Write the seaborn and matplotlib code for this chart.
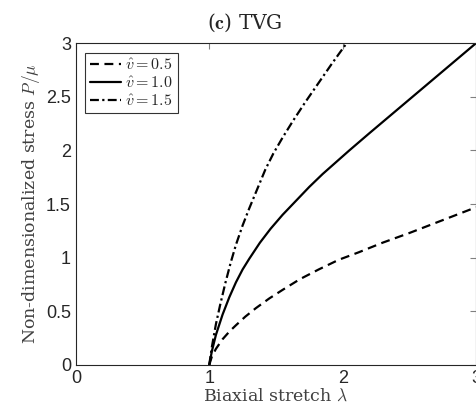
import pandas as pd
import seaborn as sns
import matplotlib
matplotlib.use("Agg")
import matplotlib.pyplot as plt

# valores
lam_05 = [1.0, 1.02, 1.05, 1.10, 1.15, 1.20, 1.27, 1.35, 1.45, 1.55, 1.68, 1.82,
          1.97, 2.12, 2.30, 2.50, 2.75, 3.0]
p_05 = [0.0, 0.08, 0.15, 0.24, 0.31, 0.37, 0.45, 0.53, 0.62, 0.70, 0.80, 0.89,
        0.98, 1.05, 1.14, 1.23, 1.35, 1.47]

lam_10 = [1.0, 1.02, 1.05, 1.10, 1.15, 1.20, 1.25, 1.30, 1.38, 1.46, 1.55, 1.65,
          1.75, 1.85, 1.95, 2.05, 2.20, 2.40, 2.60, 2.80, 3.0]
p_10 = [0.0, 0.13, 0.28, 0.47, 0.63, 0.77, 0.89, 0.99, 1.14, 1.27, 1.40, 1.53,
        1.66, 1.78, 1.89, 2.00, 2.16, 2.37, 2.58, 2.79, 3.0]

lam_15 = [1.0, 1.02, 1.05, 1.08, 1.12, 1.16, 1.20, 1.25, 1.30, 1.36, 1.42, 1.48,
          1.55, 1.63, 1.72, 1.82, 1.92, 2.03]
p_15 = [0.0, 0.17, 0.38, 0.55, 0.76, 0.95, 1.12, 1.30, 1.46, 1.64, 1.82, 1.97,
        2.12, 2.28, 2.45, 2.63, 2.81, 3.0]

etiquetas = [r"$\hat{v}=0.5$", r"$\hat{v}=1.0$", r"$\hat{v}=1.5$"]
x_ticks = [0, 1, 2, 3]
y_ticks = [0, 0.5, 1, 1.5, 2, 2.5, 3]

df = pd.concat([
    pd.DataFrame({"lam": lam_05, "P": p_05, "caso": etiquetas[0]}),
    pd.DataFrame({"lam": lam_10, "P": p_10, "caso": etiquetas[1]}),
    pd.DataFrame({"lam": lam_15, "P": p_15, "caso": etiquetas[2]}),
])

sns.set_style("white")
plt.rcParams["mathtext.fontset"] = "cm"
plt.rcParams["font.family"] = ["Liberation Sans", "DejaVu Sans"]

fig = plt.figure(figsize=(4.77, 4.19), dpi=100)
ax = fig.add_axes([0.159, 0.129, 0.839, 0.768])

estilos = [(0, (4, 2.5)), "-", (0, (4, 1.5, 1, 1.5))]
for etq, ls in zip(etiquetas, estilos):
    sns.lineplot(
        data=df[df["caso"] == etq], x="lam", y="P",
        color="black", linewidth=1.6, linestyle=ls, label=etq,
        sort=False, ax=ax,
    )

ax.set_xlim(0, 3)
ax.set_ylim(0, 3)
ax.set_xticks(x_ticks)
ax.set_yticks(y_ticks)
ax.set_yticklabels(["0", "0.5", "1", "1.5", "2", "2.5", "3"])
ax.tick_params(direction="in", length=4, width=0.8, color="#808080",
               labelsize=13, labelcolor="#262626", top=True, right=True)
for s in ax.spines.values():
    s.set_color("#262626")
    s.set_linewidth(0.8)

ax.set_xlabel(r"Biaxial stretch $\lambda$", fontsize=12.5, family="DejaVu Serif",
              color="#404040", labelpad=1)
ax.set_ylabel(r"Non-dimensionalized stress $P/\mu$", fontsize=12.5,
              family="DejaVu Serif", color="#404040", labelpad=3)
ax.set_title(r"($\mathbf{c}$) TVG", fontsize=14.5, family="DejaVu Serif",
             x=0.4225, pad=10)

leg = ax.legend(loc="upper left", fontsize=11.5, frameon=True, fancybox=False,
                edgecolor="black", borderpad=0.3, handlelength=1.9,
                handletextpad=0.3, labelspacing=0.15, borderaxespad=0.6)
leg.get_frame().set_linewidth(0.8)

plt.savefig("out.png", dpi=100)
